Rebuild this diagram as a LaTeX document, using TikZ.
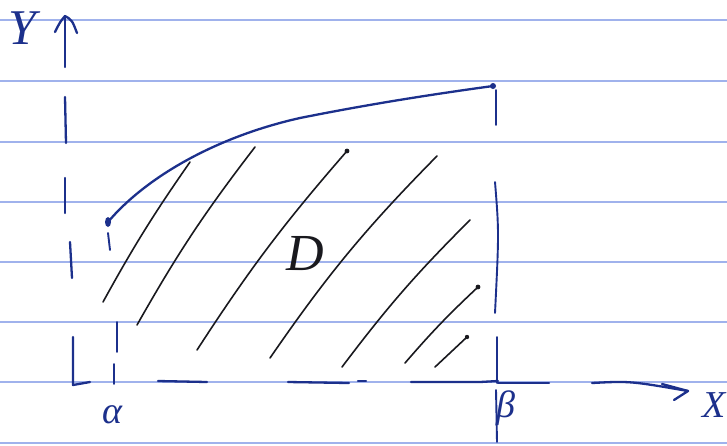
\documentclass[tikz,border=0pt]{standalone}
\usepackage{fontspec}
\setmainfont{Liberation Serif}
\usepackage{tikz}
\definecolor{inkblue}{RGB}{28,48,140}
\definecolor{rulecol}{RGB}{160,178,236}
\definecolor{pencil}{RGB}{25,25,30}
\tikzset{
  ink/.style={draw=inkblue, line width=2.3pt, line cap=round, line join=round},
  thinink/.style={draw=inkblue, line width=1.9pt, line cap=round, line join=round},
  hatchline/.style={draw=pencil, line width=1.6pt, line cap=round},
  ruleline/.style={draw=rulecol, line width=1.1pt},
  lbl/.style={text=inkblue, inner sep=0pt},
  inkdot/.style={fill=pencil, draw=none},
}
\begin{document}
\begin{tikzpicture}[x=1pt,y=-1pt]
\useasboundingbox (0,0) rectangle (727,445);
\fill[white] (0,0) rectangle (727,445);
% ruled paper
\foreach \yy in {20,81,142,202,262,322,382,443}
  \draw[ruleline] (0,\yy) -- (727,\yy);

% ---- y axis (hand drawn, broken)
\coordinate (ytop) at (65,16);
\draw[ink] (ytop) -- (65,67);
\draw[ink] (65,97) -- (66,143);
\draw[ink] (65,178) -- (65,213);
\draw[ink] (70,242) -- (72,278);
\coordinate (origin) at (73,385);
\draw[ink] (73,337) -- (origin) -- (90,382);
\draw[ink] (55,32) .. controls (60,22) .. (ytop) .. controls (72,20) .. (77,33);

% ---- x axis (hand drawn, broken)
\coordinate (xtip) at (688,391);
\draw[ink] (158,381) -- (207,382);
\draw[ink] (288,382) -- (349,383);
\draw[ink] (358,381) -- (366,381);
\draw[ink] (411,382) -- (480,382) -- (498,381);
\draw[ink] (498,383) -- (549,383);
\draw[ink] (592,383) .. controls (630,381) .. (xtip);
\draw[ink] (662,384) -- (xtip) -- (674,400);

% ---- alpha dashed vertical
\draw[thinink] (108,233) -- (110,250);
\draw[thinink] (117,322) -- (117,352);
\draw[thinink] (114,364) -- (114,384);

% ---- beta dashed vertical
\draw[thinink] (496,90) -- (496,125);
\draw[thinink] (495,182) .. controls (499,232) .. (495,313);
\draw[thinink] (497,337) -- (497,383);
\draw[thinink] (496,390) -- (497,442);

% ---- upper boundary curve
\coordinate (cstart) at (108,222);
\coordinate (cend) at (493,86);
\draw[ink] (cstart) .. controls (145,178) and (215,137) .. (300,118)
                    .. controls (360,106) and (420,96) .. (cend);
\fill[inkblue] (cstart) ellipse (3pt and 5pt);
\fill[inkblue] (cend) circle (3pt);

% ---- hatching
\draw[hatchline] (103,302) to[bend left=3] (190,162);
\draw[hatchline] (137,325) to[bend left=4] (255,147);
\draw[hatchline] (197,350) to[bend left=4] (347,151);
\draw[hatchline] (270,358) to[bend left=5] (437,156);
\draw[hatchline] (342,367) to[bend left=4] (470,220);
\draw[hatchline] (405,363) to[bend left=3] (478,287);
\draw[hatchline] (435,367) -- (467,337);
\fill[inkdot] (347,151) circle (2.4pt);
\fill[inkdot] (478,287) circle (2.4pt);
\fill[inkdot] (467,337) circle (2.2pt);

% ---- labels
\node[lbl, font=\fontsize{50}{52}\selectfont\itshape] (ylab) at (22,28) {Y};
\node[lbl, font=\fontsize{38}{40}\selectfont\itshape] (xlab) at (714,405) {X};
\node[lbl, font=\fontsize{38}{40}\selectfont\itshape] (alab) at (112,415) {α};
\node[lbl, font=\fontsize{38}{40}\selectfont\itshape] (blab) at (506,408) {β};
\node[lbl, text=pencil, font=\fontsize{52}{54}\selectfont\itshape] (dlab) at (305,254) {D};
\end{tikzpicture}
\end{document}
